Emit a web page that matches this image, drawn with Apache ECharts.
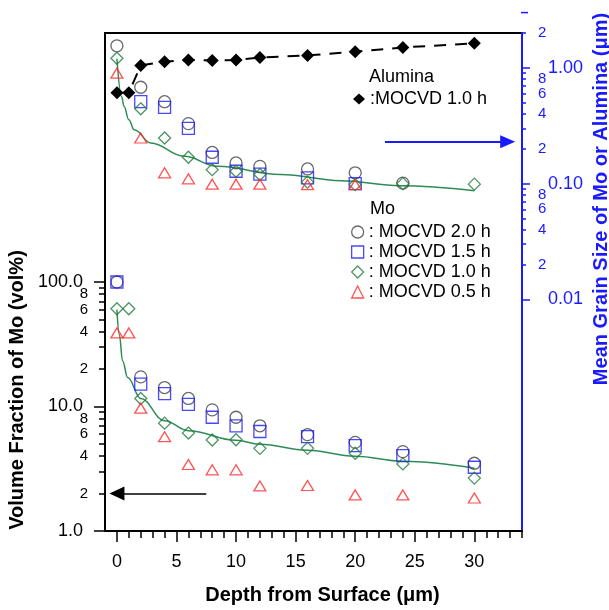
<!DOCTYPE html>
<html lang="en">
<head>
<meta charset="UTF-8">
<title>Mo volume fraction and grain size</title>
<script src="https://cdn.jsdelivr.net/npm/echarts@6/dist/echarts.min.js"></script>
<style>
  html, body { margin: 0; padding: 0; background: #fff; }
  #chart { width: 609px; height: 610px; }
</style>
</head>
<body>
<div id="chart"></div>
<script>
  // depth values (um)
  const depthA = [0, 1, 2, 4, 6, 8, 10, 12, 16, 20, 24, 30];
  const depthB = [0, 2, 4, 6, 8, 10, 12, 16, 20, 24, 30];
  const depthC = [0, 2, 4, 6, 8, 10, 12, 16, 20, 24];
  const depthD = [2, 4, 6, 8, 10, 12, 16, 20];
  const depthE = [0, 2, 4, 6, 8, 10, 12, 16, 20];

  // volume fraction of Mo (vol%), left axis
  const vf20 = [100, 17.3, 14.2, 11.6, 9.4, 8.2, 7.0, 5.94, 5.15, 4.34, 3.5];   // depthB
  const vf15 = [100, 15.1, 12.7, 10.4, 8.2, 7.0, 6.3, 5.72, 4.85, 4.03, 3.25];  // depthB
  const vf10 = [61, 61, 11.6, 7.35, 6.12, 5.38, 5.41, 4.61, 4.61, 4.21, 3.46, 2.66]; // depthA
  const vf05 = [39, 39, 9.7, 5.72, 3.42, 3.1, 3.1, 2.3, 2.32, 1.95, 1.95, 1.84];     // depthA

  // mean grain size (um), right axis
  const gs20 = [1.55, 0.68, 0.51, 0.33, 0.186, 0.151, 0.141, 0.134, 0.124, 0.101]; // depthC
  const gs15 = [0.51, 0.455, 0.30, 0.169, 0.128, 0.121, 0.112, 0.100];              // depthD
  const gs10 = [1.21, 0.443, 0.248, 0.169, 0.132, 0.128, 0.120, 0.103, 0.098, 0.100, 0.099]; // depthB
  const gs05 = [0.90, 0.248, 0.124, 0.110, 0.099, 0.099, 0.099, 0.098, 0.098];      // depthE
  const alumina = [0.61, 0.61, 1.05, 1.13, 1.17, 1.16, 1.17, 1.23, 1.28, 1.38, 1.50, 1.63]; // depthA

  // fitted curves
  const fitLowX = [0, 0.2, 0.48, 0.9, 2, 4, 6, 10, 12, 16, 20, 24, 30];
  const fitLowY = [60, 37.9, 23.2, 17.1, 11.6, 7.69, 6.39, 5.35, 4.97, 4.45, 3.98, 3.63, 3.19];
  const fitUpX = [0, 0.39, 0.6, 1.0, 1.45, 2.85, 5.64, 8.44, 13.75, 18.8, 23.8, 30];
  const fitUpY = [1.2, 0.566, 0.464, 0.356, 0.292, 0.224, 0.172, 0.141, 0.120, 0.106, 0.096, 0.087];

  // arrows [xFrom, xTo, y]
  const arrowLeft = [7.5, 0, 2];
  const arrowRight = [22.5, 32.8, 0.23];

  // axis ticks and labels
  const xMinorTicks = [0,1,2,3,4,5,6,7,8,9,10,11,12,13,14,15,16,17,18,19,20,21,22,23,24,25,26,27,28,29,30,31,32,33,34];
  const xMajorTicks = [0, 5, 10, 15, 20, 25, 30];
  const leftTicks = [1,2,3,4,5,6,7,8,9,10,20,30,40,50,60,70,80,90,100];
  const leftMajor = [1, 10, 100];
  const leftLabels = [1, 2, 4, 6, 8, 10, 20, 40, 60, 80, 100];
  const leftTop = 10000;   // blank label at the top end of the left axis
  const rightTicks = [0.01,0.02,0.03,0.04,0.05,0.06,0.07,0.08,0.09,0.1,0.2,0.3,0.4,0.5,0.6,0.7,0.8,0.9,1,2];
  const rightMajor = [0.01, 0.1, 1];
  const rightLabels = [0.01, 0.02, 0.04, 0.06, 0.08, 0.1, 0.2, 0.4, 0.6, 0.8, 1, 2];

  const FONT = 'Liberation Sans, Arial, Helvetica, sans-serif';
  const BLUE = '#1a1aff';
  const GREEN_FIT = '#2e8b57';
  const GREEN = '#1f7a3c';
  const GRAY = '#444';
  const RED = '#ff2a2a';

  const lg = Math.log10;
  const pts = (xs, vs) => xs.map((x, i) => [x, lg(vs[i])]);
  const isMajor = v => Math.abs(v - Math.round(v)) < 1e-9;
  const digit = v => Math.round(Math.pow(10, v - Math.floor(v + 1e-9)));

  var chart = echarts.init(document.getElementById('chart'));

  function scatter(name, axis, xs, vs, symbol, size, color) {
    return {
      name: name, type: 'scatter', yAxisIndex: axis, data: pts(xs, vs),
      symbol: symbol, symbolSize: size,
      itemStyle: { color: 'rgba(0,0,0,0)', borderColor: color, borderWidth: 1.3 },
      z: 5
    };
  }

  function arrow(axis, a, color, width, size) {
    return {
      type: 'scatter', yAxisIndex: axis, data: [], silent: true,
      markLine: {
        silent: true, animation: false,
        symbol: ['none', 'triangle'], symbolSize: size,
        label: { show: false },
        lineStyle: { color: color, width: width, type: 'solid' },
        data: [[{ coord: [a[0], lg(a[2])] }, { coord: [a[1], lg(a[2])] }]]
      }
    };
  }

  var options = {
    animation: false,
    textStyle: { fontFamily: FONT },
    grid: { left: 105, right: 87, top: 33, bottom: 76, show: true, borderColor: '#000', borderWidth: 2 },
    legend: [{
      data: ['Alumina'], left: 353, top: 89, padding: 0, itemGap: 0,
      icon: 'diamond', itemWidth: 12, itemHeight: 11, selectedMode: false,
      formatter: () => ':MOCVD 1.0 h',
      textStyle: { fontSize: 18, color: '#000', lineHeight: 20, fontFamily: FONT }
    }, {
      data: ['MOCVD 2.0 h', 'MOCVD 1.5 h', 'MOCVD 1.0 h', 'MOCVD 0.5 h'],
      orient: 'vertical', left: 351, top: 222, padding: 0, itemGap: 0,
      itemWidth: 12, itemHeight: 12, selectedMode: false,
      itemStyle: { borderWidth: 1.3 },
      formatter: n => ': ' + n,
      textStyle: { fontSize: 18, color: '#000', lineHeight: 20, fontFamily: FONT }
    }],
    xAxis: [{
      type: 'value', min: -1, max: 34, position: 'bottom',
      axisLine: { onZero: false, lineStyle: { color: '#000', width: 2 } },
      axisTick: { customValues: xMinorTicks, length: 7, lineStyle: { color: '#000', width: 1.5 } },
      axisLabel: { customValues: xMajorTicks, fontSize: 18, color: '#000', margin: 22,
                   showMinLabel: true, showMaxLabel: true },
      splitLine: { show: false },
      name: 'Depth from Surface (\u03bcm)', nameLocation: 'middle', nameGap: 54,
      nameTextStyle: { fontSize: 20, fontWeight: 'bold', color: '#000', padding: [0, 0, 0, 18] }
    }, {
      type: 'value', min: -1, max: 34, position: 'bottom',
      axisLine: { show: false, onZero: false },
      axisTick: { customValues: xMajorTicks, length: 11, lineStyle: { color: '#000', width: 1.5 } },
      axisLabel: { show: false },
      splitLine: { show: false }
    }],
    yAxis: [{
      type: 'value', min: 0, max: 4, position: 'left',
      axisLine: { show: true, onZero: false, lineStyle: { color: '#000', width: 2 } },
      axisTick: { show: true, customValues: leftTicks.map(lg), length: 6, lineStyle: { color: '#000', width: 1.5 } },
      axisLabel: {
        customValues: leftLabels.concat([leftTop]).map(lg), margin: 17, color: '#000', hideOverlap: false,
        formatter: v => v > 2.5 ? '' : isMajor(v) ? '{big|' + Math.pow(10, Math.round(v)).toFixed(1) + '}' : '{small|' + digit(v) + '}',
        rich: {
          big: { fontSize: 18, color: '#000', padding: [0, 5, 0, 0], fontFamily: FONT },
          small: { fontSize: 15, color: '#000', fontFamily: FONT }
        }
      },
      splitLine: { show: false }
    }, {
      type: 'value', min: 0, max: 4, position: 'left',
      axisLine: { show: false, onZero: false },
      axisTick: { show: true, customValues: leftMajor.map(lg), length: 11, lineStyle: { color: '#000', width: 1.5 } },
      axisLabel: { show: false },
      splitLine: { show: false }
    }, {
      type: 'value', min: -4, max: lg(2), position: 'right',
      axisLine: { show: true, onZero: false, lineStyle: { color: BLUE, width: 2 } },
      axisTick: { show: true, customValues: rightTicks.map(lg), length: 4, lineStyle: { color: BLUE, width: 1.5 } },
      axisLabel: {
        customValues: rightLabels.map(lg), margin: 16, color: BLUE, hideOverlap: false,
        showMinLabel: true, showMaxLabel: true,
        formatter: v => isMajor(v) ? '{big|' + Math.pow(10, Math.round(v)).toFixed(2) + '}' : '{small|' + digit(v) + '}',
        rich: {
          big: { fontSize: 18, color: BLUE, padding: [0, 0, 0, 10], fontFamily: FONT },
          small: { fontSize: 15, color: BLUE, fontFamily: FONT }
        }
      },
      splitLine: { show: false }
    }, {
      type: 'value', min: -4, max: lg(2), position: 'right',
      axisLine: { show: false, onZero: false },
      axisTick: { show: true, customValues: rightMajor.map(lg), length: 8, lineStyle: { color: BLUE, width: 1.5 } },
      axisLabel: { show: false },
      splitLine: { show: false }
    }],
    graphic: [
      { type: 'text', left: 369, top: 68, style: { text: 'Alumina', fontSize: 18, fill: '#000', fontFamily: FONT } },
      { type: 'text', left: 370, top: 200, style: { text: 'Mo', fontSize: 18, fill: '#000', fontFamily: FONT } },
      { type: 'text', x: 17, y: 390, rotation: Math.PI / 2,
        style: { text: 'Volume Fraction of Mo (vol%)', fontSize: 20, fontWeight: 'bold', fill: '#000',
                 fontFamily: FONT, align: 'center', verticalAlign: 'middle' } },
      { type: 'text', x: 601, y: 199, rotation: Math.PI / 2,
        style: { text: 'Mean Grain Size of Mo or Alumina (\u03bcm)', fontSize: 20, fontWeight: 'bold', fill: BLUE,
                 fontFamily: FONT, align: 'center', verticalAlign: 'middle' } },
      { type: 'line', shape: { x1: 521, y1: 12.6, x2: 528, y2: 12.6 }, style: { stroke: BLUE, lineWidth: 1.5 } }
    ],
    series: [
      {
        type: 'line', yAxisIndex: 0, data: pts(fitLowX, fitLowY), smooth: 0.4, smoothMonotone: 'x',
        showSymbol: false, lineStyle: { color: GREEN_FIT, width: 1.5 }, silent: true
      },
      {
        type: 'line', yAxisIndex: 2, data: pts(fitUpX, fitUpY), smooth: 0.4, smoothMonotone: 'x',
        showSymbol: false, lineStyle: { color: GREEN_FIT, width: 1.5 }, silent: true
      },
      {
        name: 'Alumina', type: 'line', yAxisIndex: 2, data: pts(depthA, alumina),
        symbol: 'diamond', symbolSize: 13, showAllSymbol: true,
        itemStyle: { color: '#000' },
        lineStyle: { color: '#000', width: 2, type: [12, 9] }, z: 6
      },
      scatter('MOCVD 2.0 h', 2, depthC, gs20, 'circle', 12, GRAY),
      scatter('MOCVD 1.5 h', 2, depthD, gs15, 'rect', 12, BLUE),
      scatter('MOCVD 1.0 h', 2, depthB, gs10, 'diamond', 12, GREEN),
      scatter('MOCVD 0.5 h', 2, depthE, gs05, 'triangle', [12, 10], RED),
      scatter('MOCVD 2.0 h', 0, depthB, vf20, 'circle', 12, GRAY),
      scatter('MOCVD 1.5 h', 0, depthB, vf15, 'rect', 12, BLUE),
      scatter('MOCVD 1.0 h', 0, depthA, vf10, 'diamond', 12, GREEN),
      scatter('MOCVD 0.5 h', 0, depthA, vf05, 'triangle', [12, 10], RED),
      arrow(0, arrowLeft, '#000', 1.5, [14, 15]),
      arrow(2, arrowRight, BLUE, 2, [13, 15])
    ]
  };

  chart.setOption(options);
</script>
</body>
</html>
